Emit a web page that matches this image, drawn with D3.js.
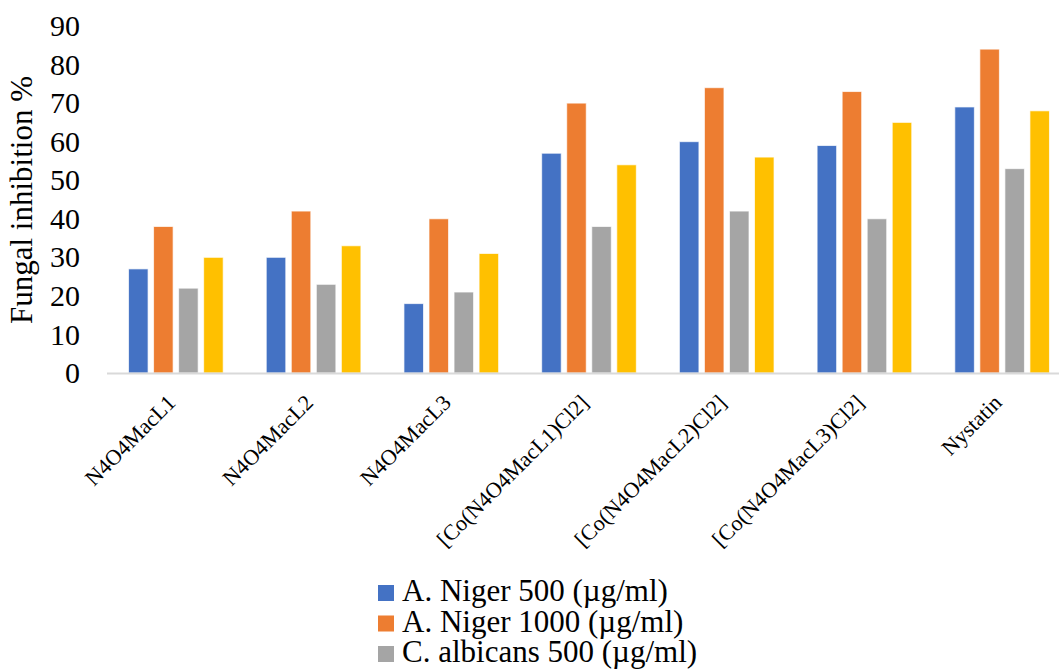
<!DOCTYPE html>
<html>
<head>
<meta charset="utf-8">
<script src="https://cdn.jsdelivr.net/npm/d3@7"></script>
<style>
  html, body { margin: 0; padding: 0; background: #fff; }
  svg { display: block; font-family: "Liberation Serif", "Times New Roman", serif; }
</style>
</head>
<body>
<svg id="chart" width="1059" height="670"></svg>
<script>
// Compounds tested
const categories = [
  "N4O4MacL1", "N4O4MacL2", "N4O4MacL3",
  "[Co(N4O4MacL1)Cl2]", "[Co(N4O4MacL2)Cl2]", "[Co(N4O4MacL3)Cl2]",
  "Nystatin"
];

// Series names (organism and concentration)
const seriesNames = [
  "A. Niger 500 (µg/ml)",
  "A. Niger 1000 (µg/ml)",
  "C. albicans 500 (µg/ml)",
  "C. albicans 1000 (µg/ml)"
];

// Fungal inhibition % per compound
const nigerLow     = [27, 30, 18, 57, 60, 59, 69];
const nigerHigh    = [38, 42, 40, 70, 74, 73, 84];
const albicansLow  = [22, 23, 21, 38, 42, 40, 53];
const albicansHigh = [30, 33, 31, 54, 56, 65, 68];

const yTicks = [0, 10, 20, 30, 40, 50, 60, 70, 80, 90];
const colors = ["#4472C4", "#ED7D31", "#A5A5A5", "#FFC000"];

const seriesValues = [nigerLow, nigerHigh, albicansLow, albicansHigh];
const rows = categories.map((c, i) => ({
  name: c,
  values: seriesNames.map((s, j) => ({ key: s, value: seriesValues[j][i] }))
}));

const svg = d3.select("#chart");
const plotLeft = 107, plotRight = 1071, plotTop = 26, plotBottom = 373;

const x0 = d3.scaleBand().domain(categories).range([plotLeft, plotRight]).padding(0);
const x1 = d3.scaleBand().domain(seriesNames).range([0, x0.bandwidth()])
  .paddingInner(0.22).paddingOuter(0.86);
const y = d3.scaleLinear().domain([0, 90]).range([plotBottom, plotTop]);
const color = d3.scaleOrdinal().domain(seriesNames).range(colors);

// Y axis labels only (no line, no ticks)
const yAxis = svg.append("g")
  .attr("transform", `translate(${plotLeft},0)`)
  .call(d3.axisLeft(y).tickValues(yTicks).tickSize(0).tickPadding(27));
yAxis.select(".domain").remove();
yAxis.selectAll("text")
  .attr("font-family", "Liberation Serif, Times New Roman, serif")
  .attr("font-size", 30)
  .attr("fill", "#000");

// Y axis title
svg.append("text")
  .attr("transform", "translate(32,200) rotate(-90)")
  .attr("text-anchor", "middle")
  .attr("font-size", 31)
  .attr("fill", "#000")
  .text("Fungal inhibition %");

// Bars
const groups = svg.append("g").selectAll("g")
  .data(rows).join("g")
  .attr("transform", d => `translate(${x0(d.name)},0)`);

groups.selectAll("rect")
  .data(d => d.values).join("rect")
  .attr("x", d => x1(d.key))
  .attr("width", x1.bandwidth())
  .attr("y", d => y(d.value))
  .attr("height", d => y(0) - y(d.value))
  .attr("fill", d => color(d.key))
  .attr("stroke", "#fff")
  .attr("stroke-opacity", 0.7)
  .attr("stroke-width", 1);

// Category axis line
svg.append("line")
  .attr("x1", plotLeft).attr("x2", plotRight)
  .attr("y1", y(0) + 0.5).attr("y2", y(0) + 0.5)
  .attr("stroke", "#D9D9D9")
  .attr("stroke-width", 2);

// Rotated category labels
svg.append("g").selectAll("text")
  .data(categories).join("text")
  .attr("transform", d => `translate(${x0(d) + x0.bandwidth() / 2 + 1},${plotBottom + 31}) rotate(-45)`)
  .attr("text-anchor", "end")
  .attr("font-size", 22)
  .attr("fill", "#000")
  .text(d => d);

// Legend
const legend = svg.append("g").selectAll("g")
  .data(seriesNames).join("g")
  .attr("transform", (d, i) => `translate(378,${585 + i * 30.5})`);
legend.append("rect")
  .attr("width", 16).attr("height", 16)
  .attr("fill", d => color(d));
legend.append("text")
  .attr("x", 24).attr("y", 16)
  .attr("font-size", 31)
  .attr("fill", "#000")
  .text(d => d);
</script>
</body>
</html>
